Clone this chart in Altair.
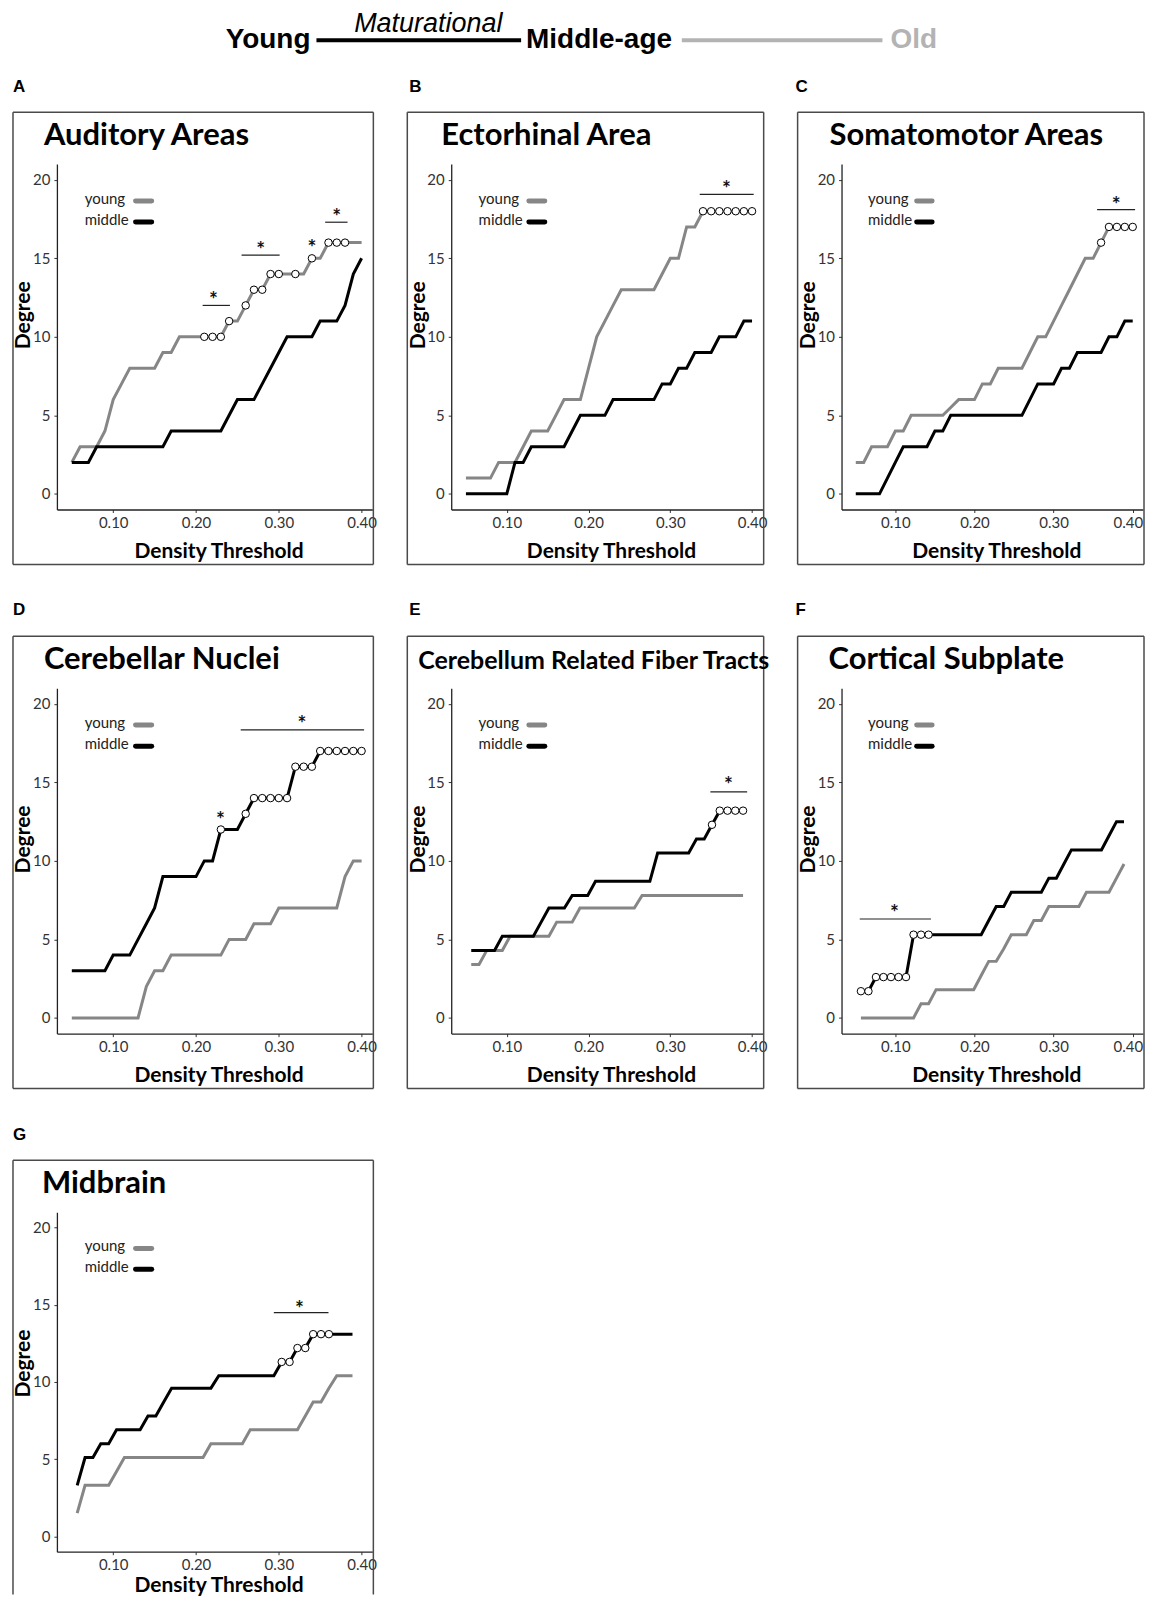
import altair as alt
import pandas as pd

# ---------------- data ----------------
THRESH = [0.05, 0.06, 0.07, 0.08, 0.09, 0.10, 0.11, 0.12, 0.13, 0.14, 0.15, 0.16,
          0.17, 0.18, 0.19, 0.20, 0.21, 0.22, 0.23, 0.24, 0.25, 0.26, 0.27, 0.28,
          0.29, 0.30, 0.31, 0.32, 0.33, 0.34, 0.35, 0.36, 0.37, 0.38, 0.39, 0.40]
# positions as drawn in panels E, F, G (slightly compressed in the figure)
THRESH_EFG = [0.0565, 0.066, 0.0755, 0.085, 0.0945, 0.104, 0.1135, 0.123, 0.1325, 0.142,
              0.1515, 0.161, 0.1705, 0.18, 0.1895, 0.199, 0.2085, 0.218, 0.2275, 0.237,
              0.2465, 0.256, 0.2655, 0.275, 0.2845, 0.294, 0.3035, 0.313, 0.3225, 0.332,
              0.3415, 0.351, 0.3605, 0.37, 0.3795, 0.389]

A_YOUNG = [2, 3, 3, 3, 4, 6, 7, 8, 8, 8, 8, 9, 9, 10, 10, 10, 10, 10, 10, 11, 11, 12, 13, 13,
           14, 14, 14, 14, 14, 15, 15, 16, 16, 16, 16, 16]
A_MIDDLE = [2, 2, 2, 3, 3, 3, 3, 3, 3, 3, 3, 3, 4, 4, 4, 4, 4, 4, 4, 5, 6, 6, 6, 7,
            8, 9, 10, 10, 10, 10, 11, 11, 11, 12, 14, 15]
A_SIG = [16, 17, 18, 19, 21, 22, 23, 24, 25, 27, 29, 31, 32, 33]
A_BAR_X1 = [0.208, 0.255, 0.356]
A_BAR_X2 = [0.241, 0.301, 0.383]
A_BAR_Y = [12.0, 15.2, 17.3]
A_STAR_X = [0.221, 0.278, 0.340, 0.370]
A_STAR_Y = [12.55, 15.7, 15.85, 17.8]

B_YOUNG = [1, 1, 1, 1, 2, 2, 2, 3, 4, 4, 4, 5, 6, 6, 6, 8, 10, 11, 12, 13, 13, 13, 13, 13,
           14, 15, 15, 17, 17, 18, 18, 18, 18, 18, 18, 18]
B_MIDDLE = [0, 0, 0, 0, 0, 0, 2, 2, 3, 3, 3, 3, 3, 4, 5, 5, 5, 5, 6, 6, 6, 6, 6, 6,
            7, 7, 8, 8, 9, 9, 9, 10, 10, 10, 11, 11]
B_SIG = [29, 30, 31, 32, 33, 34, 35]
B_BAR_X1 = [0.336]
B_BAR_X2 = [0.402]
B_BAR_Y = [19.07]
B_STAR_X = [0.3686]
B_STAR_Y = [19.6]

C_YOUNG = [2, 2, 3, 3, 3, 4, 4, 5, 5, 5, 5, 5, 5.5, 6, 6, 6, 7, 7, 8, 8, 8, 8, 9, 10,
           10, 11, 12, 13, 14, 15, 15, 16, 17, 17, 17, 17]
C_MIDDLE = [0, 0, 0, 0, 1, 2, 3, 3, 3, 3, 4, 4, 5, 5, 5, 5, 5, 5, 5, 5, 5, 5, 6, 7,
            7, 7, 8, 8, 9, 9, 9, 9, 10, 10, 11, 11]
C_SIG = [31, 32, 33, 34, 35]
C_BAR_X1 = [0.355]
C_BAR_X2 = [0.403]
C_BAR_Y = [18.1]
C_STAR_X = [0.379]
C_STAR_Y = [18.6]

D_YOUNG = [0, 0, 0, 0, 0, 0, 0, 0, 0, 2, 3, 3, 4, 4, 4, 4, 4, 4, 4, 5, 5, 5, 6, 6,
           6, 7, 7, 7, 7, 7, 7, 7, 7, 9, 10, 10]
D_MIDDLE = [3, 3, 3, 3, 3, 4, 4, 4, 5, 6, 7, 9, 9, 9, 9, 9, 10, 10, 12, 12, 12, 13, 14, 14,
            14, 14, 14, 16, 16, 16, 17, 17, 17, 17, 17, 17]
D_SIG = [18, 21, 22, 23, 24, 25, 26, 27, 28, 29, 30, 31, 32, 33, 34, 35]
D_BAR_X1 = [0.254]
D_BAR_X2 = [0.403]
D_BAR_Y = [18.35]
D_STAR_X = [0.2295, 0.328]
D_STAR_Y = [12.8, 18.9]

E_YOUNG = [3.4, 3.4, 4.3, 4.3, 4.3, 5.2, 5.2, 5.2, 5.2, 5.2, 5.2, 6.1, 6.1, 6.1, 7.0, 7.0,
           7.0, 7.0, 7.0, 7.0, 7.0, 7.0, 7.8, 7.8, 7.8, 7.8, 7.8, 7.8, 7.8, 7.8, 7.8, 7.8,
           7.8, 7.8, 7.8, 7.8]
E_MIDDLE = [4.3, 4.3, 4.3, 4.3, 5.2, 5.2, 5.2, 5.2, 5.2, 6.1, 7.0, 7.0, 7.0, 7.8, 7.8, 7.8,
            8.7, 8.7, 8.7, 8.7, 8.7, 8.7, 8.7, 8.7, 10.5, 10.5, 10.5, 10.5, 10.5, 11.4, 11.4,
            12.3, 13.2, 13.2, 13.2, 13.2]
E_SIG = [31, 32, 33, 34, 35]
E_BAR_X1 = [0.349]
E_BAR_X2 = [0.394]
E_BAR_Y = [14.4]
E_STAR_X = [0.371]
E_STAR_Y = [15.0]

F_YOUNG = [0, 0, 0, 0, 0, 0, 0, 0, 0.9, 0.9, 1.8, 1.8, 1.8, 1.8, 1.8, 1.8, 2.7, 3.6, 3.6,
           4.4, 5.3, 5.3, 5.3, 6.2, 6.2, 7.1, 7.1, 7.1, 7.1, 7.1, 8.0, 8.0, 8.0, 8.0, 8.9, 9.8]
F_MIDDLE = [1.7, 1.7, 2.6, 2.6, 2.6, 2.6, 2.6, 5.3, 5.3, 5.3, 5.3, 5.3, 5.3, 5.3, 5.3, 5.3,
            5.3, 6.2, 7.1, 7.1, 8.0, 8.0, 8.0, 8.0, 8.0, 8.9, 8.9, 9.8, 10.7, 10.7, 10.7,
            10.7, 10.7, 11.6, 12.5, 12.5]
F_SIG = [0, 1, 2, 3, 4, 5, 6, 7, 8, 9]
F_BAR_X1 = [0.055]
F_BAR_X2 = [0.145]
F_BAR_Y = [6.3]
F_STAR_X = [0.0988]
F_STAR_Y = [6.88]

G_YOUNG = [1.5, 3.3, 3.3, 3.3, 3.3, 4.2, 5.1, 5.1, 5.1, 5.1, 5.1, 5.1, 5.1, 5.1, 5.1, 5.1,
           5.1, 6.0, 6.0, 6.0, 6.0, 6.0, 6.9, 6.9, 6.9, 6.9, 6.9, 6.9, 6.9, 7.8, 8.7, 8.7,
           9.6, 10.4, 10.4, 10.4]
G_MIDDLE = [3.3, 5.1, 5.1, 6.0, 6.0, 6.9, 6.9, 6.9, 6.9, 7.8, 7.8, 8.7, 9.6, 9.6, 9.6, 9.6,
            9.6, 9.6, 10.4, 10.4, 10.4, 10.4, 10.4, 10.4, 10.4, 10.4, 11.3, 11.3, 12.2, 12.2,
            13.1, 13.1, 13.1, 13.1, 13.1, 13.1]
G_SIG = [26, 27, 28, 29, 30, 31, 32]
G_BAR_X1 = [0.294]
G_BAR_X2 = [0.360]
G_BAR_Y = [14.5]
G_STAR_X = [0.325]
G_STAR_Y = [14.94]

LEG_LABELS = ["young", "middle"]
LEG_TEXT_X = 0.0655
LEG_TEXT_Y = [18.48, 17.10]
LEG_LINE_X = [0.127, 0.1465]
LEG_LINE_Y = [18.65, 17.31]

X_DOMAIN = [0.032, 0.413]
Y_DOMAIN = [-1, 21]
X_TICKS = [0.10, 0.20, 0.30, 0.40]
Y_TICKS = [0, 5, 10, 15, 20]

GRAY = "#868686"
BLACK = "#000000"
FRAME = "#4a4a4a"
FONT = "Lato"

ONE = pd.DataFrame({"k": [0]})


def make_panel(letter, title, xs, young, middle, sig_series, sig_idx,
               bx1, bx2, by, sx, sy, W, H, letter_dx, letter_dy, title_dx,
               title_size=31, col3=False, xtitle_y=48, frame_bottom=55, frame_closed=True):
    xsc = alt.Scale(domain=X_DOMAIN, nice=False, zero=False)
    ysc = alt.Scale(domain=Y_DOMAIN, nice=False, zero=False)
    xaxis_kw = dict(values=X_TICKS, format=".2f", title="Density Threshold",
                    titleY=xtitle_y, titleX=W / 2 + 4, titleBaseline="alphabetic",
                    titleAlign="center", labelPadding=3)
    if col3:
        xaxis_kw.update(labelFlush=15, labelFlushOffset=10)
    xaxis = alt.Axis(**xaxis_kw)
    yaxis = alt.Axis(values=Y_TICKS, format="d", title="Degree", titleX=-27, titleY=151,
                     titleAngle=270, titleBaseline="alphabetic", titleAlign="center",
                     labelPadding=4)

    def X(field):
        return alt.X(field, scale=xsc, axis=xaxis)

    def Y(field):
        return alt.Y(field, scale=ysc, axis=yaxis)

    young_df = pd.DataFrame({"x": xs, "y": young})
    middle_df = pd.DataFrame({"x": xs, "y": middle})
    src = young if sig_series == "young" else middle
    pts = pd.DataFrame({"x": [xs[i] for i in sig_idx], "y": [src[i] for i in sig_idx]})
    bars = pd.DataFrame({"x": bx1, "x2": bx2, "y": by})
    stars = pd.DataFrame({"x": sx, "y": sy})
    leg_rules = pd.DataFrame({"x": [LEG_LINE_X[0]] * 2, "x2": [LEG_LINE_X[1]] * 2,
                              "y": LEG_LINE_Y, "series": LEG_LABELS})
    leg_text = pd.DataFrame({"x": [LEG_TEXT_X] * 2, "y": LEG_TEXT_Y, "label": LEG_LABELS})

    L, R, T, B = -44, W + 1, -52, H + frame_bottom
    frame_layers = [
        alt.Chart(ONE).mark_rule(stroke=FRAME, strokeWidth=1.5).encode(
            x=alt.value(L), y=alt.value(T), y2=alt.value(B)),
        alt.Chart(ONE).mark_rule(stroke=FRAME, strokeWidth=1.5).encode(
            x=alt.value(R), y=alt.value(T), y2=alt.value(B)),
        alt.Chart(ONE).mark_rule(stroke=FRAME, strokeWidth=1.5).encode(
            x=alt.value(L), x2=alt.value(R), y=alt.value(T)),
    ]
    if frame_closed:
        frame_layers.append(
            alt.Chart(ONE).mark_rule(stroke=FRAME, strokeWidth=1.5).encode(
                x=alt.value(L), x2=alt.value(R), y=alt.value(B)))

    letter_layer = alt.Chart(ONE).mark_text(
        align="left", baseline="alphabetic", font="Liberation Sans", fontSize=17,
        fontWeight="bold", color="#000").encode(
        x=alt.value(letter_dx), y=alt.value(letter_dy), text=alt.value(letter))
    title_layer = alt.Chart(ONE).mark_text(
        align="left", baseline="alphabetic", font=FONT, fontSize=title_size,
        fontWeight="bold", color="#000").encode(
        x=alt.value(title_dx), y=alt.value(-19), text=alt.value(title))

    young_line = alt.Chart(young_df).mark_line(strokeWidth=3, color=GRAY).encode(
        x=X("x:Q"), y=Y("y:Q"))
    middle_line = alt.Chart(middle_df).mark_line(strokeWidth=3, color=BLACK).encode(
        x=X("x:Q"), y=Y("y:Q"))
    cscale = alt.Scale(domain=LEG_LABELS, range=[GRAY, BLACK])
    leg_rule_layer = alt.Chart(leg_rules).mark_rule(strokeWidth=5, strokeCap="round").encode(
        x=X("x:Q"), x2="x2:Q", y=Y("y:Q"),
        color=alt.Color("series:N", scale=cscale, legend=None))
    leg_text_layer = alt.Chart(leg_text).mark_text(
        align="left", baseline="alphabetic", font=FONT, fontSize=15, color="#222").encode(
        x=X("x:Q"), y=Y("y:Q"), text="label:N")
    bar_layer = alt.Chart(bars).mark_rule(stroke="#222", strokeWidth=1.2).encode(
        x=X("x:Q"), x2="x2:Q", y=Y("y:Q"))
    star_layer = alt.Chart(stars).mark_text(
        text="*", font=FONT, fontSize=21, fontWeight="bold", baseline="middle", dy=4,
        color="#111").encode(x=X("x:Q"), y=Y("y:Q"))
    pt_layer = alt.Chart(pts).mark_circle(
        size=56, fill="white", stroke="black", strokeWidth=1, opacity=1).encode(
        x=X("x:Q"), y=Y("y:Q"))

    return alt.layer(
        young_line, *frame_layers, letter_layer, title_layer, leg_rule_layer,
        leg_text_layer, bar_layer, star_layer, middle_line, pt_layer
    ).properties(width=W, height=H)


W1, W2, W3 = 316, 312, 302
H = 346

pA = make_panel("A", "Auditory Areas", THRESH, A_YOUNG, A_MIDDLE, "young", A_SIG,
                A_BAR_X1, A_BAR_X2, A_BAR_Y, A_STAR_X, A_STAR_Y, W1, H, -44, -72, -13)
pB = make_panel("B", "Ectorhinal Area", THRESH, B_YOUNG, B_MIDDLE, "young", B_SIG,
                B_BAR_X1, B_BAR_X2, B_BAR_Y, B_STAR_X, B_STAR_Y, W2, H, -42, -72, -10)
pC = make_panel("C", "Somatomotor Areas", THRESH, C_YOUNG, C_MIDDLE, "young", C_SIG,
                C_BAR_X1, C_BAR_X2, C_BAR_Y, C_STAR_X, C_STAR_Y, W3, H, -46, -72, -12,
                col3=True)
pD = make_panel("D", "Cerebellar Nuclei", THRESH, D_YOUNG, D_MIDDLE, "middle", D_SIG,
                D_BAR_X1, D_BAR_X2, D_BAR_Y, D_STAR_X, D_STAR_Y, W1, H, -44, -73, -13)
pE = make_panel("E", "Cerebellum Related Fiber Tracts", THRESH_EFG, E_YOUNG, E_MIDDLE,
                "middle", E_SIG, E_BAR_X1, E_BAR_X2, E_BAR_Y, E_STAR_X, E_STAR_Y,
                W2, H, -42, -73, -33, title_size=25)
pF = make_panel("F", "Cortical Subplate", THRESH_EFG, F_YOUNG, F_MIDDLE, "middle", F_SIG,
                F_BAR_X1, F_BAR_X2, F_BAR_Y, F_STAR_X, F_STAR_Y, W3, H, -46, -73, -13,
                col3=True)
pG = make_panel("G", "Midbrain", THRESH_EFG, G_YOUNG, G_MIDDLE, "middle", G_SIG,
                G_BAR_X1, G_BAR_X2, G_BAR_Y, G_STAR_X, G_STAR_Y, W1, 340, -44, -72, -15,
                xtitle_y=40, frame_bottom=43, frame_closed=False)

# ---------------- header ----------------
HEAD_FONT = "Liberation Sans"
OLD_GRAY = "#b3b3b3"
guard = alt.Chart(ONE).mark_rect(opacity=0).encode(
    x=alt.value(-48), x2=alt.value(-47), y=alt.value(0), y2=alt.value(1))
young_txt = alt.Chart(ONE).mark_text(
    align="right", baseline="alphabetic", font=HEAD_FONT, fontSize=28, fontWeight="bold",
    color="#000", clip=True).encode(x=alt.value(254), y=alt.value(38), text=alt.value("Young"))
mat_rule = alt.Chart(ONE).mark_rule(stroke="#000", strokeWidth=4).encode(
    x=alt.value(260), x2=alt.value(465), y=alt.value(30))
mat_txt = alt.Chart(ONE).mark_text(
    align="center", baseline="alphabetic", font=HEAD_FONT, fontSize=27, fontStyle="italic",
    color="#000", clip=True).encode(x=alt.value(372), y=alt.value(22),
                                    text=alt.value("Maturational"))
mid_txt = alt.Chart(ONE).mark_text(
    align="left", baseline="alphabetic", font=HEAD_FONT, fontSize=28, fontWeight="bold",
    color="#000", clip=True).encode(x=alt.value(470), y=alt.value(38),
                                    text=alt.value("Middle-age"))
old_rule = alt.Chart(ONE).mark_rule(stroke=OLD_GRAY, strokeWidth=4).encode(
    x=alt.value(626), x2=alt.value(827), y=alt.value(30))
old_txt = alt.Chart(ONE).mark_text(
    align="left", baseline="alphabetic", font=HEAD_FONT, fontSize=28, fontWeight="bold",
    color=OLD_GRAY, clip=True).encode(x=alt.value(835), y=alt.value(38), text=alt.value("Old"))
header = alt.layer(guard, young_txt, mat_rule, mat_txt, mid_txt, old_rule, old_txt).properties(
    width=1088, height=60)

grid = alt.concat(pA, pB, pC, pD, pE, pF, pG, columns=3,
                  spacing={"row": 179, "column": 79}, bounds="flush")

chart = alt.vconcat(header, grid, spacing=94, bounds="flush").properties(
    padding={"left": 0, "top": 0, "right": 0, "bottom": 0}
).configure_view(stroke="transparent").configure_axis(
    grid=False, domainColor="#222", domainWidth=1.3, tickColor="#333", tickSize=3,
    tickWidth=1, labelFont=FONT, labelFontSize=15, labelColor="#333",
    titleFont=FONT, titleFontSize=21, titleFontWeight="bold", titleColor="#000"
)

chart.save("out.html", embed_options={"renderer": "svg", "actions": False})
